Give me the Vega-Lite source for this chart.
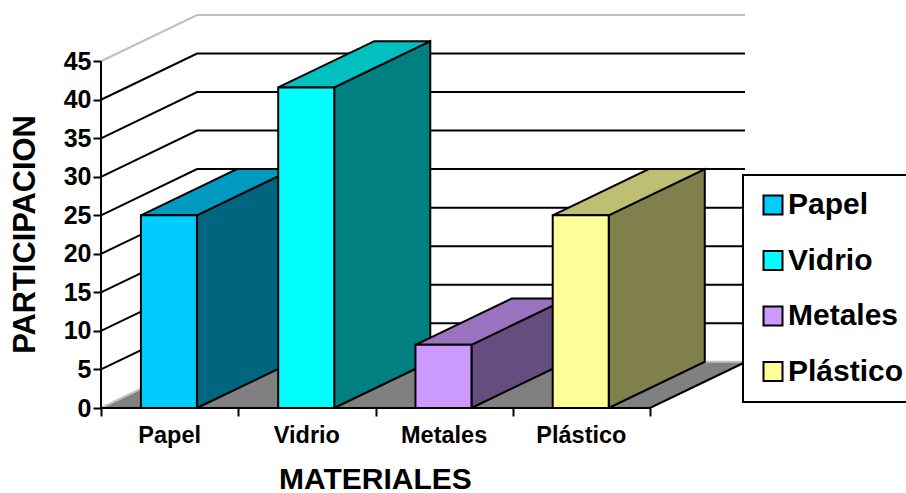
{
"$schema":"https://vega.github.io/schema/vega-lite/v6.json",
"autosize":{"type":"none"},
"padding":{"left":101,"top":14,"right":161,"bottom":85},
"width":644,
"height":394,
"background":"white",
"config":{"view":{"stroke":null},"font":"Liberation Sans","legend":{"strokeWidth":2}},
"datasets":{
 "materiales":[{"material":"Papel","valor":25},{"material":"Vidrio","valor":41.6},{"material":"Metales","valor":8.2},{"material":"Plástico","valor":25}],
 "marcas":[{"valor":0},{"valor":5},{"valor":10},{"valor":15},{"valor":20},{"valor":25},{"valor":30},{"valor":35},{"valor":40},{"valor":45}],
 "marco":[{"parte":"suelo"}]
},
"encoding":{
 "x":{"field":"px","type":"quantitative","scale":{"domain":[0,4.692],"nice":false,"zero":false},
  "axis":{"values":[0,1,2,3,4],"labels":false,"domain":false,"grid":false,"ticks":true,"tickSize":8,"tickWidth":2,"tickColor":"#000",
   "title":"MATERIALES","titleFont":"Liberation Sans","titleFontSize":30,"titleFontWeight":"bold","titleColor":"#000","titleX":274,"titleY":80,"titleAlign":"center","titleBaseline":"alphabetic"}},
 "y":{"field":"py","type":"quantitative","scale":{"domain":[0,51.13],"nice":false,"zero":false},
  "axis":{"values":[0,5,10,15,20,25,30,35,40,45],"domain":false,"grid":false,"tickSize":8,"tickWidth":2,"tickColor":"#000","labelFont":"Liberation Sans","labelFontSize":25,"labelFontWeight":"bold","labelColor":"#000","labelPadding":2,
   "title":"PARTICIPACION","titleFont":"Liberation Sans","titleFontSize":30.8,"titleFontWeight":"bold","titleColor":"#000","titleAngle":270,"titleX":-67,"titleY":220,"titleAlign":"center","titleBaseline":"alphabetic"}}
},
"layer":[
 {"data":{"name":"marco"},
  "transform":[
   {"calculate":"[0,4,4.7,0.7,0]","as":"xs"},
   {"calculate":"[0,0,6,6,0]","as":"ys"},
   {"calculate":"[0,1,2,3,4]","as":"idx"},
   {"flatten":["xs","ys","idx"],"as":["px","py","vertice"]}],
  "mark":{"type":"line","fill":"#808080","stroke":"#808080","strokeWidth":1},
  "encoding":{"order":{"field":"vertice","type":"ordinal"}}},
 {"data":{"name":"marcas"},
  "transform":[
   {"calculate":"[0,0.7,4.692]","as":"xs"},
   {"calculate":"[datum.valor,datum.valor+6,datum.valor+6]","as":"ys"},
   {"calculate":"[0,1,2]","as":"idx"},
   {"flatten":["xs","ys","idx"],"as":["px","py","vertice"]}],
  "mark":{"type":"line","strokeWidth":2},
  "encoding":{"order":{"field":"vertice","type":"ordinal"},"detail":{"field":"valor","type":"ordinal"},
   "stroke":{"condition":{"test":"datum.valor==0||datum.valor==45","value":"#c0c0c0"},"value":"#000000"}}},
 {"data":{"name":"marco"},
  "transform":[
   {"calculate":"[0,0,4,4.7]","as":"xs"},
   {"calculate":"[45,0,0,6]","as":"ys"},
   {"calculate":"[0,1,2,3]","as":"idx"},
   {"flatten":["xs","ys","idx"],"as":["px","py","vertice"]}],
  "mark":{"type":"line","stroke":"#000000","strokeWidth":2},
  "encoding":{"order":{"field":"vertice","type":"ordinal"}}},
 {"data":{"name":"materiales"},
  "transform":[
   {"calculate":"indexof(['Papel','Vidrio','Metales','Plástico'],datum.material)+0.291+0.408","as":"d"},
   {"calculate":"[datum.d,datum.d+0.7,datum.d+0.7,datum.d,datum.d]","as":"xs"},
   {"calculate":"[0,6,datum.valor+6,datum.valor,0]","as":"ys"},
   {"calculate":"[0,1,2,3,4]","as":"idx"},
   {"flatten":["xs","ys","idx"],"as":["px","py","vertice"]}],
  "mark":{"type":"line","stroke":"#000000","strokeWidth":2,"strokeJoin":"miter"},
  "encoding":{"order":{"field":"vertice","type":"ordinal"},"detail":{"field":"material"},
   "fill":{"field":"material","type":"nominal","legend":null,"scale":{"domain":["Papel","Vidrio","Metales","Plástico"],"range":["#006680","#008080","#664d80","#80804d"]}}}},
 {"data":{"name":"materiales"},
  "transform":[
   {"calculate":"indexof(['Papel','Vidrio','Metales','Plástico'],datum.material)+0.291","as":"d"},
   {"calculate":"[datum.d,datum.d+0.408,datum.d+1.108,datum.d+0.7,datum.d]","as":"xs"},
   {"calculate":"[datum.valor,datum.valor,datum.valor+6,datum.valor+6,datum.valor]","as":"ys"},
   {"calculate":"[0,1,2,3,4]","as":"idx"},
   {"flatten":["xs","ys","idx"],"as":["px","py","vertice"]}],
  "mark":{"type":"line","stroke":"#000000","strokeWidth":2,"strokeJoin":"miter"},
  "encoding":{"order":{"field":"vertice","type":"ordinal"},"detail":{"field":"material"},
   "fill":{"field":"material","type":"nominal","legend":null,"scale":{"domain":["Papel","Vidrio","Metales","Plástico"],"range":["#0099bf","#00bfbf","#9973bf","#bfbf73"]}}}},
 {"data":{"name":"materiales"},
  "transform":[
   {"calculate":"indexof(['Papel','Vidrio','Metales','Plástico'],datum.material)+0.291","as":"px"},
   {"calculate":"datum.px+0.408","as":"px2"},
   {"calculate":"datum.valor","as":"py"},
   {"calculate":"0","as":"py2"}],
  "mark":{"type":"rect","stroke":"#000000","strokeWidth":2},
  "encoding":{"x2":{"field":"px2"},"y2":{"field":"py2"},
   "fill":{"field":"material","type":"nominal","scale":{"domain":["Papel","Vidrio","Metales","Plástico"],"range":["#00ccff","#00ffff","#cc99ff","#ffff99"]},
    "legend":{"orient":"none","legendX":642,"legendY":161,"title":null,"zindex":1,"symbolType":"square","symbolSize":361,"symbolStrokeColor":"#000000","symbolStrokeWidth":2,"labelFont":"Liberation Sans","labelFontSize":30,"labelFontWeight":"bold","labelColor":"#000","labelOffset":0,"rowPadding":25.5,"padding":15,"strokeColor":"#000000","fillColor":"#ffffff","labelLimit":300,"symbolOpacity":1}}}},
 {"data":{"name":"materiales"},
  "transform":[
   {"calculate":"indexof(['Papel','Vidrio','Metales','Plástico'],datum.material)+0.5","as":"px"},
   {"calculate":"0","as":"py"}],
  "mark":{"type":"text","font":"Liberation Sans","fontSize":23.5,"fontWeight":"bold","color":"#000000","dy":28,"align":"center","baseline":"middle"},
  "encoding":{"text":{"field":"material"}}}
],
"resolve":{"scale":{"fill":"independent"}}
}
